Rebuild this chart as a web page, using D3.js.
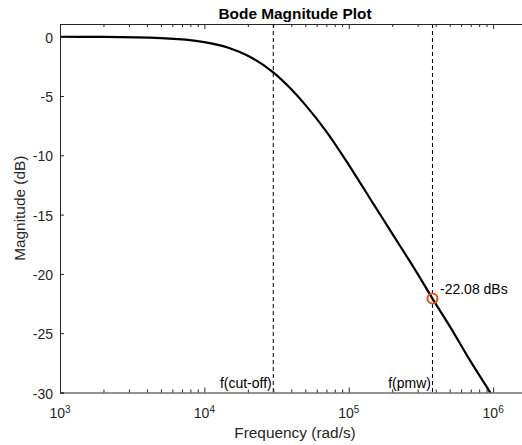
<!DOCTYPE html>
<html>
<head>
<meta charset="utf-8">
<script src="https://cdn.jsdelivr.net/npm/d3@7"></script>
<style>
  body { margin: 0; background: #fff; }
  svg { display: block; font-family: "Liberation Sans", Arial, Helvetica, sans-serif; }
</style>
</head>
<body>
<svg id="chart" width="522" height="445"></svg>
<script>
// magnitude response
const freqs = [1e3, 2e3, 5e3, 1e4, 1.5e4, 2e4, 3e4, 4e4, 5e4, 7e4, 1e5, 1.5e5, 2e5, 3e5, 3.8e5, 5e5, 7e5, 1e6, 1.2e6];
const mags  = [-0.005, -0.02, -0.12, -0.46, -0.97, -1.6, -3.01, -4.44, -5.75, -8.0, -10.8, -14.2, -16.6, -20.0, -22.08, -24.4, -27.4, -30.4, -32.0];

const cutoffFreq = 3e4;
const pmwFreq = 3.8e5;
const pmwMag = -22.08;
const markerLabel = "-22.08 dBs";
const vlines = [{f: cutoffFreq, label: "f(cut-off)"}, {f: pmwFreq, label: "f(pmw)"}];

const yTicks = [0, -5, -10, -15, -20, -25, -30];
const xDecades = [3, 4, 5, 6];

const svg = d3.select("#chart");
const pLeft = 60, pRight = 530, pTop = 24, pBottom = 392.5;
const axisColor = "#262626";
const tickFont = 14, labelFont = 15.4, textFont = 14;

const x = d3.scaleLog().domain([1e3, 1.8e6]).range([pLeft, pRight]);
const y = d3.scaleLinear().domain([-30, 1.07]).range([pBottom, pTop]);

// clip for the curve
svg.append("defs").append("clipPath").attr("id", "plotclip")
    .append("rect")
    .attr("x", pLeft).attr("y", pTop)
    .attr("width", pRight - pLeft).attr("height", pBottom - pTop);

// dashed vertical markers
svg.append("g").selectAll("line")
    .data(vlines)
    .join("line")
    .attr("x1", d => x(d.f)).attr("x2", d => x(d.f))
    .attr("y1", pTop).attr("y2", pBottom)
    .attr("stroke", "#000")
    .attr("stroke-width", 1)
    .attr("stroke-dasharray", "4,3");

svg.append("g").selectAll("text")
    .data(vlines)
    .join("text")
    .attr("x", d => x(d.f) - 1.5)
    .attr("y", pBottom - 4.5)
    .attr("text-anchor", "end")
    .attr("font-size", textFont)
    .attr("fill", "#000")
    .text(d => d.label);

// the curve
const pts = freqs.map((f, i) => [f, mags[i]]);
const line = d3.line()
    .x(d => x(d[0]))
    .y(d => y(d[1]))
    .curve(d3.curveMonotoneX);

svg.append("path")
    .datum(pts)
    .attr("clip-path", "url(#plotclip)")
    .attr("d", line)
    .attr("fill", "none")
    .attr("stroke", "#000")
    .attr("stroke-width", 2.2);

// marker at f(pmw)
svg.append("circle")
    .attr("cx", x(pmwFreq))
    .attr("cy", y(pmwMag))
    .attr("r", 5)
    .attr("fill", "none")
    .attr("stroke", "#D95319")
    .attr("stroke-width", 2);

svg.append("text")
    .attr("x", x(pmwFreq) + 7.5)
    .attr("y", y(pmwMag) - 4.5)
    .attr("font-size", textFont)
    .attr("fill", "#000")
    .text(markerLabel);

// axes: ticks point inward like MATLAB
const xMinor = [];
for (let e = 3; e <= 6; e++) {
    for (let m = 1; m <= 9; m++) {
        const v = m * Math.pow(10, e);
        if (v >= 1e3 && v <= 1.8e6) xMinor.push(v);
    }
}
const xMajor = xDecades.map(e => Math.pow(10, e));

const bottomAxis = d3.axisBottom(x).tickValues(xMinor)
    .tickSize(-3).tickFormat("");
const gBottom = svg.append("g")
    .attr("transform", `translate(0,${pBottom})`)
    .call(bottomAxis);
gBottom.selectAll(".tick line").attr("y2", d => xMajor.includes(d) ? -5 : -3);

const topAxis = d3.axisTop(x).tickValues(xMinor)
    .tickSize(-3).tickFormat("");
const gTop = svg.append("g")
    .attr("transform", `translate(0,${pTop})`)
    .call(topAxis);
gTop.selectAll(".tick line").attr("y2", d => xMajor.includes(d) ? 5 : 3);

const leftAxis = d3.axisLeft(y).tickValues(yTicks).tickSize(-4).tickPadding(6)
    .tickFormat(d => d === 0 ? "0" : String(d));
const gLeft = svg.append("g")
    .attr("transform", `translate(${pLeft},0)`)
    .call(leftAxis);

[gBottom, gTop, gLeft].forEach(g => {
    g.select(".domain").attr("stroke", axisColor).attr("stroke-width", 1);
    g.selectAll(".tick line").attr("stroke", axisColor);
});
gLeft.selectAll(".tick text")
    .attr("font-size", tickFont)
    .attr("font-family", "Liberation Sans, Arial, sans-serif")
    .attr("fill", axisColor)
    .attr("x", -7)
    .attr("dy", "0.4em");

// x tick labels 10^n with superscripts
const xl = svg.append("g").selectAll("text")
    .data(xDecades)
    .join("text")
    .attr("x", d => x(Math.pow(10, d)))
    .attr("y", pBottom + 25.5)
    .attr("text-anchor", "middle")
    .attr("font-size", tickFont)
    .attr("fill", axisColor);
xl.append("tspan").text("10");
xl.append("tspan")
    .attr("dy", -5.5)
    .attr("font-size", 10)
    .text(d => d);

// labels
svg.append("text")
    .attr("x", (pLeft + pRight) / 2)
    .attr("y", 18.5)
    .attr("text-anchor", "middle")
    .attr("font-size", labelFont)
    .attr("font-weight", "bold")
    .attr("fill", "#000")
    .text("Bode Magnitude Plot");

svg.append("text")
    .attr("x", (pLeft + pRight) / 2)
    .attr("y", 438)
    .attr("text-anchor", "middle")
    .attr("font-size", labelFont)
    .attr("fill", axisColor)
    .text("Frequency (rad/s)");

svg.append("text")
    .attr("transform", `translate(25,${(pTop + pBottom) / 2}) rotate(-90)`)
    .attr("text-anchor", "middle")
    .attr("font-size", labelFont)
    .attr("fill", axisColor)
    .text("Magnitude (dB)");
</script>
</body>
</html>
